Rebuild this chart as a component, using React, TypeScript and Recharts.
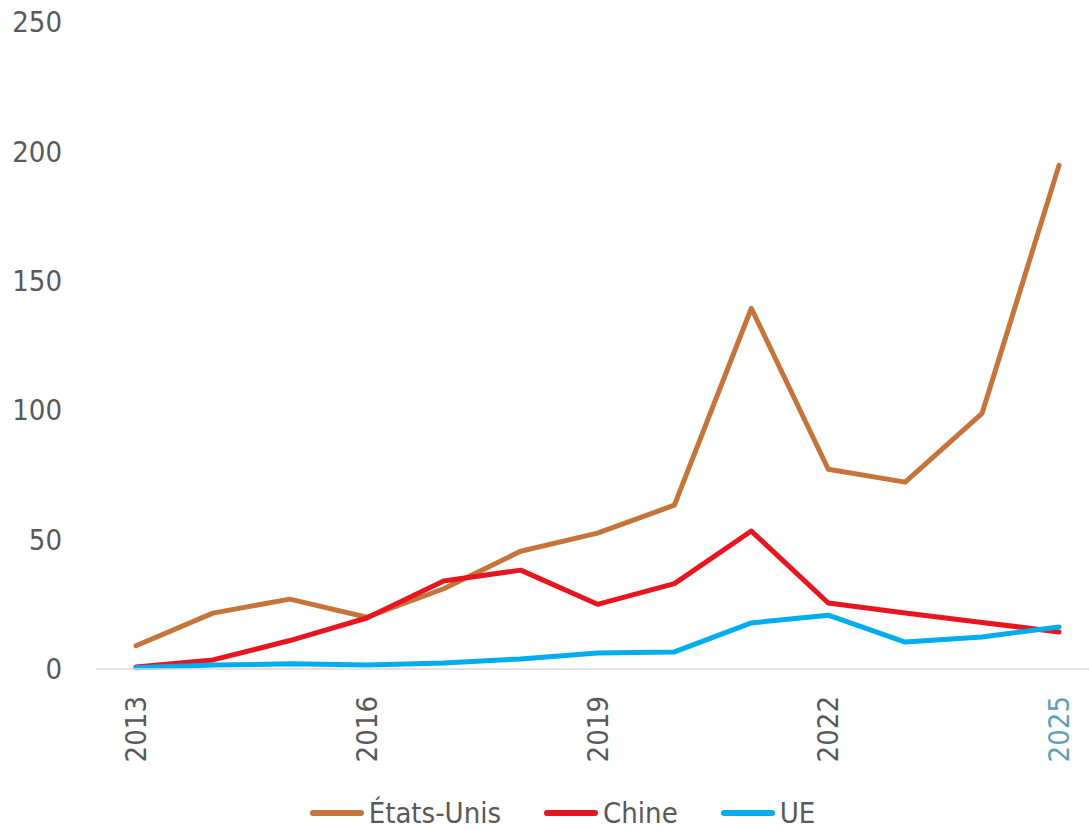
import React from "react";
import { LineChart, Line, XAxis, YAxis, Legend } from "recharts";

const years = ["2013", "2014", "2015", "2016", "2017", "2018", "2019", "2020", "2021", "2022", "2023", "2024", "2025"];
const etatsUnis = [9, 21.6, 27, 20, 31, 45.5, 52.5, 63.3, 139.4, 77.2, 72.2, 98.8, 194.6];
const chine = [0.8, 3.5, 11, 19.7, 34, 38.2, 25, 33, 53.3, 25.5, 21.6, 18, 14.3];
const ue = [0.5, 1.5, 2, 1.5, 2.3, 3.9, 6.2, 6.6, 17.8, 20.8, 10.4, 12.4, 16.2];
const yTicks = [0, 50, 100, 150, 200, 250];

const series = [
  { key: "etatsUnis", name: "États-Unis", color: "#C5743A" },
  { key: "chine", name: "Chine", color: "#E8141E" },
  { key: "ue", name: "UE", color: "#00AEEF" },
];

const data = years.map((year, i) => ({
  year,
  etatsUnis: etatsUnis[i],
  chine: chine[i],
  ue: ue[i],
}));

const FONT = "'Liberation Sans Narrow', 'DejaVu Sans Condensed', 'Liberation Sans', sans-serif";

function YearTick(props: any) {
  const { x, y, payload } = props;
  const last = payload.value === years[years.length - 1];
  return (
    <text
      x={x}
      y={y + 19}
      transform={`rotate(-90, ${x}, ${y + 19})`}
      textAnchor="end"
      dy="0.35em"
      fontSize={29}
      fontFamily={FONT}
      fill={last ? "#5FA0B4" : "#595959"}
    >
      {payload.value}
    </text>
  );
}

function LegendContent() {
  return (
    <div
      style={{
        display: "flex",
        justifyContent: "center",
        gap: 43,
        paddingTop: 32,
        paddingLeft: 36,
        fontFamily: FONT,
        fontSize: 29,
        color: "#595959",
      }}
    >
      {series.map((s) => (
        <div key={s.key} style={{ display: "flex", alignItems: "center" }}>
          <span style={{ display: "inline-block", width: 54, height: 6, borderRadius: 3, background: s.color, marginRight: 5 }} />
          <span>{s.name}</span>
        </div>
      ))}
    </div>
  );
}

export default function App() {
  return (
    <div style={{ position: "absolute", top: 0, left: 0, width: 1089, height: 830, background: "#fff" }}>
      <LineChart width={1089} height={830} data={data} margin={{ top: 22, right: 0, left: 0, bottom: 0 }}>
        <XAxis
          dataKey="year"
          interval={2}
          height={95}
          padding={{ left: 40, right: 30 }}
          axisLine={{ stroke: "#D9D9D9", strokeWidth: 1.5 }}
          tickLine={false}
          tick={<YearTick />}
        />
        <YAxis
          domain={[0, 250]}
          ticks={yTicks}
          width={96}
          axisLine={false}
          tickLine={false}
          tickSize={0}
          tickMargin={34}
          tick={{ fontSize: 29, fontFamily: FONT, fill: "#595959" }}
        />
        <Legend verticalAlign="bottom" height={66} content={<LegendContent />} />
        {series.map((s) => (
          <Line
            key={s.key}
            type="linear"
            dataKey={s.key}
            name={s.name}
            stroke={s.color}
            strokeWidth={5}
            strokeLinecap="round"
            strokeLinejoin="round"
            dot={false}
            isAnimationActive={false}
          />
        ))}
      </LineChart>
    </div>
  );
}
